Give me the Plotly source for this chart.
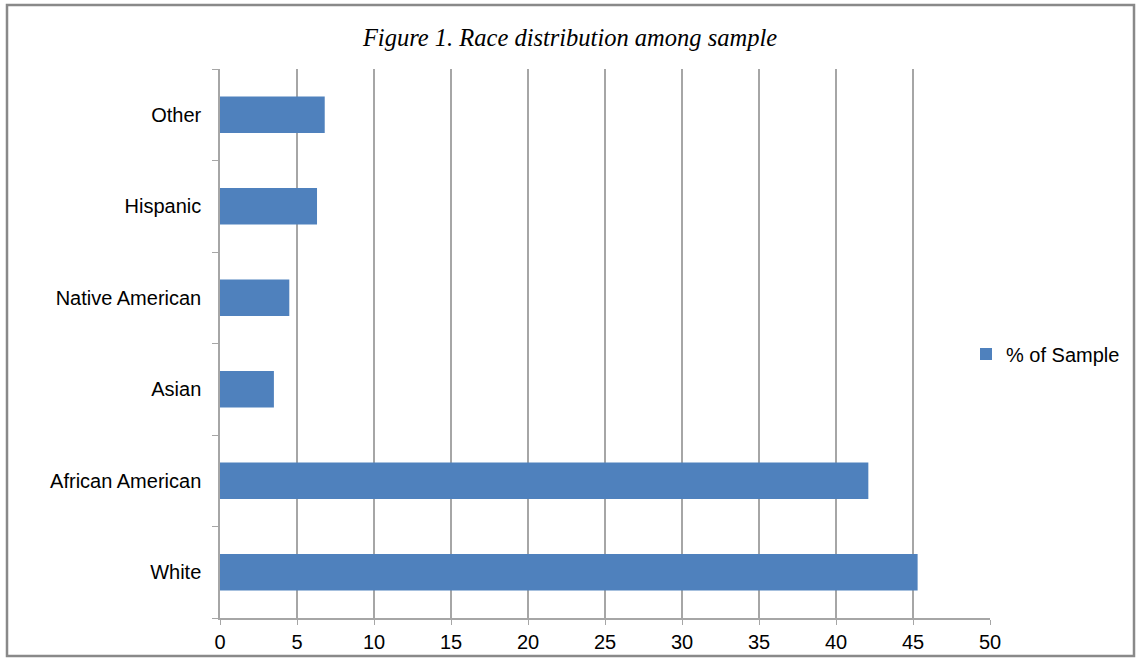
import plotly.graph_objects as go

# Race distribution among the sample (percent)
categories = ["White", "African American", "Asian", "Native American", "Hispanic", "Other"]
percent = [45.3, 42.1, 3.5, 4.5, 6.3, 6.8]
series_name = "% of Sample"
x_ticks = [0, 5, 10, 15, 20, 25, 30, 35, 40, 45, 50]

BAR = "#4f81bd"
GRID = "#a6a6a6"
FRAME = "#898989"

W, H = 1136, 658
L, R, T, B = 220, 146, 69, 40
pw, ph = W - L - R, H - T - B


def px_x(p):
    return (p - L) / pw


def px_y(p):
    return (H - B - p) / ph


fig = go.Figure()
fig.add_trace(go.Bar(
    y=categories,
    x=percent,
    orientation="h",
    name=series_name,
    marker=dict(color=BAR, line=dict(width=0)),
    showlegend=True,
))

fig.update_layout(
    width=W,
    height=H,
    margin=dict(l=L, r=R, t=T, b=B, pad=0, autoexpand=False),
    paper_bgcolor="white",
    plot_bgcolor="white",
    bargap=0.6,
    font=dict(family="Liberation Sans, Arial, sans-serif", size=20, color="#000000"),
    title=dict(
        text="<i>Figure 1. Race distribution among sample</i>",
        font=dict(family="Liberation Serif, Times New Roman, serif", size=24.5, color="#000000"),
        x=px_x(570), xref="paper", xanchor="center",
        y=1 - 37 / H, yref="container", yanchor="middle",
    ),
    xaxis=dict(
        range=[0, 50],
        tickvals=x_ticks,
        showgrid=True,
        gridcolor=GRID,
        gridwidth=1.5,
        showline=True,
        linecolor=GRID,
        linewidth=1.5,
        ticks="outside",
        ticklen=5,
        tickcolor=GRID,
        zeroline=False,
        automargin=False,
        fixedrange=True,
    ),
    yaxis=dict(
        categoryorder="array",
        categoryarray=categories,
        showgrid=False,
        showline=True,
        linecolor=GRID,
        linewidth=1.5,
        ticks="outside",
        tickson="boundaries",
        ticklen=6,
        tickcolor=GRID,
        ticklabelstandoff=13,
        zeroline=False,
        automargin=False,
        fixedrange=True,
    ),
    legend=dict(
        x=px_x(966), xanchor="left",
        y=px_y(354), yanchor="middle",
        itemwidth=30,
        font=dict(size=20),
        bgcolor="rgba(0,0,0,0)",
    ),
    shapes=[dict(
        type="rect", xref="paper", yref="paper",
        x0=px_x(7), x1=px_x(1134), y0=px_y(656), y1=px_y(5),
        line=dict(color=FRAME, width=2.5),
        fillcolor="rgba(0,0,0,0)",
        layer="above",
    )],
)

fig.write_html("out.html")
